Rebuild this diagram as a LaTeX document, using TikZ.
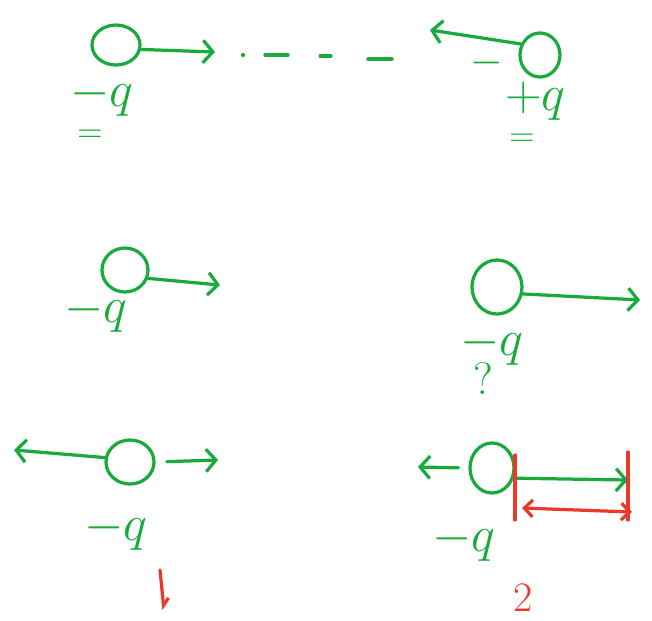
\documentclass[tikz,border=0pt]{standalone}
\usepackage{tikz}
\usetikzlibrary{arrows.meta,shapes.geometric}
\usepackage{xcolor}
\definecolor{pen}{HTML}{19AA3C}
\definecolor{redink}{HTML}{E8392A}
\tikzset{
  charge/.style={ellipse,draw=pen,line width=2.3pt,inner sep=0pt,minimum width=1.15cm,minimum height=1.05cm},
  push/.style={draw=pen,line width=2.3pt,line cap=round,-{Straight Barb[length=7pt,width=16pt]}},
  stroke/.style={draw=#1,line width=2.3pt,line cap=round},
  lbl/.style={text=pen,font=\Huge,scale=1.45,inner sep=0pt,anchor=base west},
  small/.style={text=#1,font=\Huge,inner sep=0pt}
}
\begin{document}
\begin{tikzpicture}[x=0.025cm,y=-0.025cm,>=Stealth]
  \useasboundingbox (0,0) rectangle (652,620);
  % first row: two charges far apart
  \node[charge,minimum width=1.2cm,minimum height=1.0cm] (qa) at (116,45) {};
  \node[charge,minimum width=1.0cm,minimum height=1.1cm] (qb) at (540,55) {};
  \coordinate (ta) at (215,52);
  \coordinate (tb) at (430,30);
  \draw[push] (qa.-10) -- (ta);
  \draw[push] (qb.150) -- (tb);
  \fill[pen] (243,55) circle (1.5pt);
  \foreach \a/\b/\y in {265/288/55,320/331/56,368/392/59}
    \draw[stroke=pen] (\a,\y) -- (\b,\y);
  \node[small=pen,scale=1.2] (mb) at (487,63) {$-$};
  \node[lbl] (la) at (70,106) {$-q$};
  \node[small=pen] (ea) at (90,136) {$=$};
  \node[lbl] (lb) at (505,110) {$+q$};
  \node[small=pen] (eb) at (522,140) {$=$};
  % second row
  \node[charge,minimum height=1.1cm] (qc) at (125,270) {};
  \node[charge,minimum width=1.25cm,minimum height=1.35cm] (qd) at (497,287) {};
  \coordinate (tc) at (220,285);
  \coordinate (td) at (640,300);
  \draw[push] (qc.-20) -- (tc);
  \draw[push] (qd.-15) -- (td);
  \node[lbl] (lc) at (64,322) {$-q$};
  \node[lbl] (ld) at (460,355) {$-q$};
  \node[small=pen,scale=1.3] (qm) at (483,379) {?};
  % third row
  \node[charge,minimum width=1.2cm,minimum height=1.1cm] (qe) at (130,462) {};
  \node[charge,minimum width=1.1cm,minimum height=1.25cm] (qf) at (492,468) {};
  \coordinate (te) at (14,450);
  \coordinate (tf) at (218,460);
  \coordinate (tg) at (418,467);
  \coordinate (th) at (628,480);
  \draw[push] (qe.170) -- (te);
  \draw[push,shorten <=8pt] (qe.east) -- (tf);
  \draw[push,shorten <=7pt] (qf.west) -- (tg);
  \draw[push] (qf.-25) -- (th);
  \node[lbl] (le) at (84,540) {$-q$};
  \node[lbl] (lf) at (432,551) {$-q$};
  \coordinate (ra) at (160,570);
  \coordinate (rb) at (164,610);
  \draw[stroke=redink,-{Straight Barb[left,length=5pt,width=8pt]}] (ra) -- (rb);
  \draw[stroke=redink] (515,455) -- (515,520);
  \draw[stroke=redink] (628,452) -- (628,520);
  \coordinate (rc) at (522,508);
  \coordinate (rd) at (632,512);
  \draw[stroke=redink,{Straight Barb[length=6pt,width=12pt]}-{Straight Barb[length=6pt,width=12pt]}] (rc) -- (rd);
  \node[small=redink,scale=1.2] (two) at (523,598) {2};
\end{tikzpicture}
\end{document}
